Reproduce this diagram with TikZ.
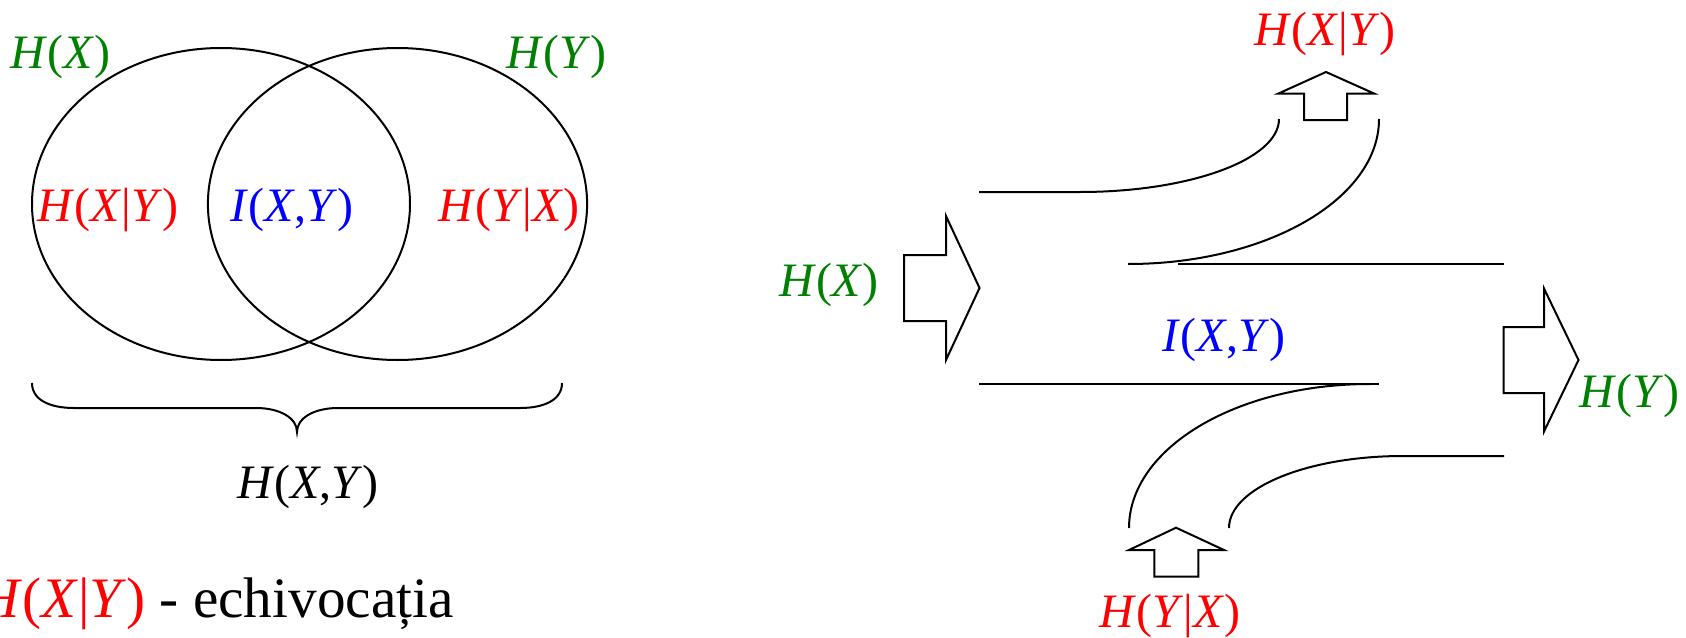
\documentclass[tikz,border=0pt]{standalone}
\usepackage{fontspec}
\setmainfont{Liberation Serif}
\definecolor{pgreen}{RGB}{0,128,0}
\definecolor{pred}{RGB}{255,0,0}
\definecolor{pblue}{RGB}{0,0,255}
\newcommand{\vi}[1]{\textit{#1}}
\begin{document}
\begin{tikzpicture}[x=0.5pt,y=-0.5pt,
  lab/.style={inner sep=0pt, anchor=base, font=\fontsize{24}{28}\selectfont},
  big/.style={inner sep=0pt, anchor=base east, font=\fontsize{28.6}{33}\selectfont},
  ln/.style={line width=1pt, line join=miter, line cap=butt}]
\useasboundingbox (0,0) rectangle (1686,637);
% ---------- Venn diagram ----------
\draw[ln] (221,204) ellipse [x radius=94.5pt, y radius=78pt];
\draw[ln] (397.5,204) ellipse [x radius=94.8pt, y radius=78pt];
\node[lab, text=pgreen] (hx) at (60.5,68) {\vi{H}(\vi{X})};
\node[lab, text=pgreen] (hy) at (556.5,68) {\vi{H}(\vi{Y})};
\node[lab, text=pred] (hxy) at (108,221) {\vi{H}(\vi{X}|\vi{Y})};
\node[lab, text=pblue] (ixy) at (292,221) {\vi{I}(\vi{X},\vi{Y})};
\node[lab, text=pred] (hyx) at (509,221) {\vi{H}(\vi{Y}|\vi{X})};
% brace
\draw[ln] (32,383) .. controls (32,400) and (50,408) .. (74,408) -- (256,408)
  .. controls (280,408) and (297,418) .. (297,432)
  .. controls (297,418) and (314,408) .. (338,408) -- (520,408)
  .. controls (544,408) and (562,400) .. (562,383);
\node[lab] (hjoint) at (308,498) {\vi{H}(\vi{X},\vi{Y})};
\node[big] (echiv) at (454,617) {\textcolor{pred}{\vi{H}(\vi{X}|\vi{Y})} - echivocația};
% ---------- Channel diagram ----------
% input arrow H(X)
\draw[ln] (904,255) -- (946,255) -- (946,216) -- (979.5,288) -- (946,360) -- (946,321) -- (904,321) -- cycle;
\node[lab, text=pgreen] (hxin) at (829,296) {\vi{H}(\vi{X})};
% output arrow H(Y)
\draw[ln] (1503.5,327) -- (1544,327) -- (1544,288.5) -- (1578.5,360) -- (1544,431.5) -- (1544,393) -- (1503.5,393) -- cycle;
\node[lab, text=pgreen] (hyout) at (1629.5,407) {\vi{H}(\vi{Y})};
% up arrow H(X|Y)
\draw[ln] (1304,120) -- (1304,93.5) -- (1278.5,93.5) -- (1326,72) -- (1374,93.5) -- (1347,93.5) -- (1347,120) -- cycle;
\node[lab, text=pred] (hxyout) at (1325,46) {\vi{H}(\vi{X}|\vi{Y})};
% up arrow H(Y|X)
\draw[ln] (1154.3,576.7) -- (1154.3,550) -- (1129,550) -- (1176,527.7) -- (1224,550) -- (1198.3,550) -- (1198.3,576.7) -- cycle;
\node[lab, text=pred] (hyxin) at (1170,627) {\vi{H}(\vi{Y}|\vi{X})};
% flow lines
\draw[ln] (979,192) -- (1080,192) .. controls (1190,192) and (1279,159.3) .. (1279,119);
\draw[ln] (1128,264) .. controls (1266.6,264) and (1379,199) .. (1379,119);
\draw[ln] (1178,264) -- (1504,264);
\node[lab, text=pblue] (ixyc) at (1224,351) {\vi{I}(\vi{X},\vi{Y})};
\draw[ln] (979,384) -- (1379,384);
\draw[ln] (1129,528) .. controls (1129,448.5) and (1236,384) .. (1370,384);
\draw[ln] (1229,528) .. controls (1229,488.3) and (1307,456) .. (1403,456) -- (1504,456);
\end{tikzpicture}
\end{document}
